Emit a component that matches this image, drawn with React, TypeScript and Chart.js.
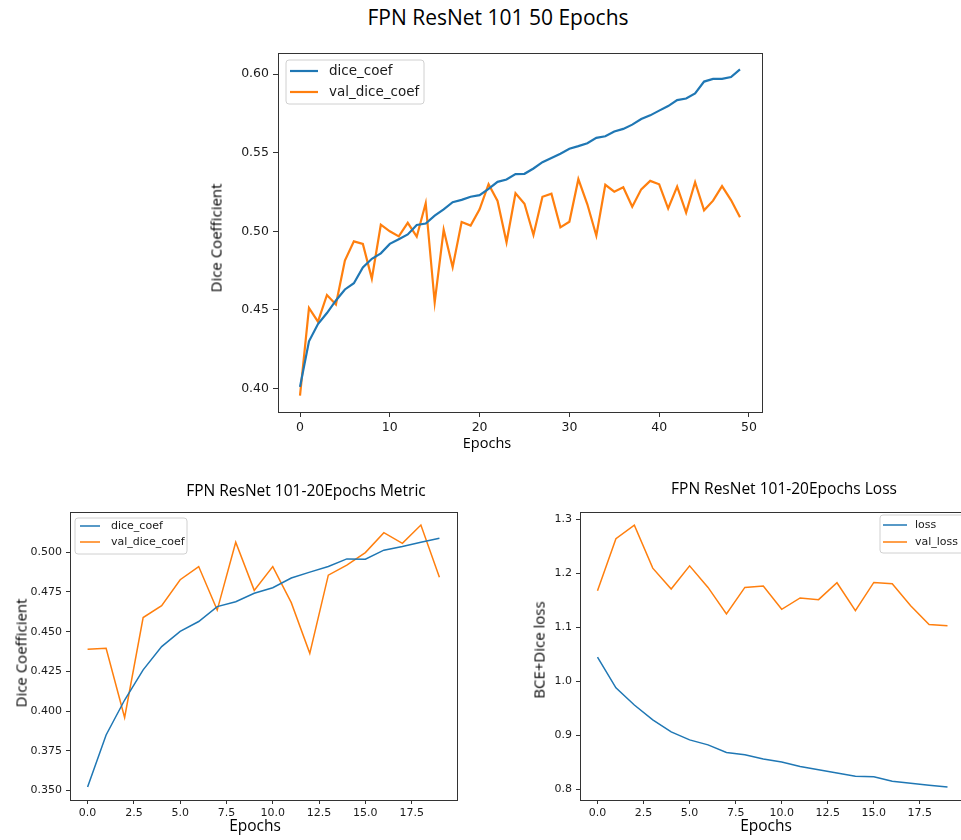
import React, { useEffect, useRef } from "react";
import { Chart, registerables } from "chart.js";

Chart.register(...registerables);

const BLUE = "#1f77b4";
const ORANGE = "#ff7f0e";

// ---- 50-epoch run ----
const DICE_50 = [
  0.401, 0.43, 0.441, 0.448, 0.456, 0.463, 0.467, 0.477, 0.4825, 0.486,
  0.492, 0.495, 0.498, 0.504, 0.505, 0.51, 0.514, 0.5185, 0.52, 0.522,
  0.523, 0.527, 0.5315, 0.533, 0.5364, 0.5366, 0.54, 0.544, 0.5467, 0.5494,
  0.5526, 0.5542, 0.5561, 0.5595, 0.5605, 0.5635, 0.5652, 0.5679, 0.5715, 0.5738,
  0.5768, 0.5797, 0.5835, 0.5845, 0.5877, 0.5953, 0.597, 0.597, 0.5982, 0.6031,
];
const VAL_DICE_50 = [
  0.3954, 0.4513, 0.4425, 0.4595, 0.4535, 0.4814, 0.4936, 0.492, 0.4699, 0.5042,
  0.5, 0.4968, 0.5054, 0.4966, 0.5179, 0.4547, 0.501, 0.4772, 0.5059, 0.5037,
  0.514, 0.53, 0.5193, 0.493, 0.5242, 0.5176, 0.4977, 0.522, 0.5239, 0.5025,
  0.5061, 0.5332, 0.5172, 0.4972, 0.5296, 0.5252, 0.528, 0.5157, 0.5267, 0.5321,
  0.5299, 0.5145, 0.5284, 0.5119, 0.5313, 0.5134, 0.5195, 0.5288, 0.5199, 0.509,
];
const X_TICKS_50 = [0, 10, 20, 30, 40, 50];
const Y_TICKS_50 = [0.4, 0.45, 0.5, 0.55, 0.6];

// ---- 20-epoch run ----
const DICE_20 = [
  0.3523, 0.385, 0.407, 0.426, 0.4406, 0.4502, 0.4564, 0.4658, 0.4689, 0.4742,
  0.4777, 0.4838, 0.4875, 0.491, 0.4958, 0.4956, 0.5013, 0.5036, 0.5063, 0.5088,
];
const VAL_DICE_20 = [
  0.4389, 0.4396, 0.396, 0.4589, 0.4664, 0.4827, 0.491, 0.4636, 0.5063, 0.476,
  0.491, 0.4683, 0.4364, 0.4856, 0.4919, 0.4998, 0.5123, 0.5056, 0.5171, 0.4842,
];
const LOSS_20 = [
  1.0449, 0.9879, 0.956, 0.9284, 0.9063, 0.8915, 0.8823, 0.8681, 0.8639, 0.856,
  0.8505, 0.8424, 0.8363, 0.8302, 0.824, 0.8234, 0.8147, 0.811, 0.8074, 0.8044,
];
const VAL_LOSS_20 = [
  1.1678, 1.2641, 1.2893, 1.2096, 1.1709, 1.2138, 1.1739, 1.1249, 1.1739, 1.1764,
  1.1333, 1.1543, 1.1512, 1.1825, 1.1309, 1.1831, 1.1807, 1.1401, 1.1051, 1.1027,
];
const X_TICKS_20 = [0, 2.5, 5, 7.5, 10, 12.5, 15, 17.5];
const Y_TICKS_METRIC = [0.35, 0.375, 0.4, 0.425, 0.45, 0.475, 0.5];
const Y_TICKS_LOSS = [0.8, 0.9, 1.0, 1.1, 1.2, 1.3];

type Series = { label: string; values: number[]; color: string };
type LegendSpec = {
  x: number; y: number; w: number; h: number;
  hx: number; handle: number; tx: number;
  rows: number[]; font: number;
};
type Area = { left: number; top: number; right: number; bottom: number };
type PanelProps = {
  left: number; top: number; width: number; height: number;
  area: Area;
  series: Series[];
  xTicks: number[]; xDecimals: number;
  yTicks: number[]; yDecimals: number;
  tickFont: number; tickLength: number; lineWidth: number;
  legend: LegendSpec;
};

// axis range padded by 5% of the data span on each side
function padRange(values: number[]): [number, number] {
  const lo = Math.min(...values);
  const hi = Math.max(...values);
  const m = (hi - lo) * 0.05;
  return [lo - m, hi + m];
}

const AXIS_COLOR = "#333333";
const TEXT_COLOR = "#1a1a1a";

const framePlugin = {
  id: "frame",
  afterDatasetsDraw(chart: any) {
    const { ctx, chartArea: a } = chart;
    ctx.save();
    ctx.strokeStyle = AXIS_COLOR;
    ctx.lineWidth = 1;
    ctx.strokeRect(
      Math.round(a.left) + 0.5,
      Math.round(a.top) + 0.5,
      Math.round(a.right) - Math.round(a.left),
      Math.round(a.bottom) - Math.round(a.top)
    );
    ctx.restore();
  },
};

function makeLegendPlugin(spec: LegendSpec) {
  return {
    id: "boxLegend",
    afterDraw(chart: any) {
      const ctx = chart.ctx as CanvasRenderingContext2D;
      ctx.save();
      const r = 3;
      const { x, y, w, h } = spec;
      ctx.beginPath();
      ctx.moveTo(x + r, y);
      ctx.lineTo(x + w - r, y);
      ctx.arcTo(x + w, y, x + w, y + r, r);
      ctx.lineTo(x + w, y + h - r);
      ctx.arcTo(x + w, y + h, x + w - r, y + h, r);
      ctx.lineTo(x + r, y + h);
      ctx.arcTo(x, y + h, x, y + h - r, r);
      ctx.lineTo(x, y + r);
      ctx.arcTo(x, y, x + r, y, r);
      ctx.closePath();
      ctx.fillStyle = "rgba(255,255,255,0.8)";
      ctx.fill();
      ctx.strokeStyle = "#d0d0d0";
      ctx.lineWidth = 1;
      ctx.stroke();
      chart.data.datasets.forEach((ds: any, i: number) => {
        const ry = spec.rows[i];
        ctx.beginPath();
        ctx.strokeStyle = ds.borderColor;
        ctx.lineWidth = ds.borderWidth;
        ctx.moveTo(spec.hx, ry);
        ctx.lineTo(spec.hx + spec.handle, ry);
        ctx.stroke();
        ctx.fillStyle = TEXT_COLOR;
        ctx.font = `${spec.font}px "DejaVu Sans"`;
        ctx.textBaseline = "middle";
        ctx.textAlign = "left";
        ctx.fillText(ds.label, spec.tx, ry);
      });
      ctx.restore();
    },
  };
}

function LinePanel(p: PanelProps) {
  const ref = useRef<HTMLCanvasElement | null>(null);
  useEffect(() => {
    if (!ref.current) return;
    const n = p.series[0].values.length;
    const [ymin, ymax] = padRange(p.series.flatMap((s) => s.values));
    const tickFont = { family: "DejaVu Sans", size: p.tickFont };
    const grid = {
      display: true,
      drawOnChartArea: false,
      drawTicks: true,
      tickLength: p.tickLength,
      color: AXIS_COLOR,
      tickColor: AXIS_COLOR,
      lineWidth: 1,
    };
    const chart = new Chart(ref.current, {
      type: "line",
      data: {
        datasets: p.series.map((s) => ({
          label: s.label,
          data: s.values.map((v, i) => ({ x: i, y: v })),
          borderColor: s.color,
          backgroundColor: s.color,
          borderWidth: p.lineWidth,
          pointRadius: 0,
          tension: 0,
          fill: false,
        })),
      },
      options: {
        animation: false,
        responsive: false,
        maintainAspectRatio: false,
        layout: {
          padding: { left: 0, top: p.area.top, right: p.width - p.area.right, bottom: 0 },
        },
        plugins: {
          legend: { display: false },
          tooltip: { enabled: false },
        },
        scales: {
          x: {
            type: "linear",
            min: -0.05 * (n - 1),
            max: (n - 1) * 1.05,
            afterBuildTicks: (s: any) => {
              s.ticks = p.xTicks.map((v) => ({ value: v }));
            },
            afterFit: (s: any) => {
              s.height = p.height - p.area.bottom;
            },
            ticks: {
              callback: (v: any) => Number(v).toFixed(p.xDecimals),
              font: tickFont,
              color: TEXT_COLOR,
              padding: 3,
              maxRotation: 0,
              autoSkip: false,
            },
            grid,
            border: { display: false },
          },
          y: {
            type: "linear",
            min: ymin,
            max: ymax,
            afterBuildTicks: (s: any) => {
              s.ticks = p.yTicks.map((v) => ({ value: v }));
            },
            afterFit: (s: any) => {
              s.width = p.area.left;
            },
            ticks: {
              callback: (v: any) => Number(v).toFixed(p.yDecimals),
              font: tickFont,
              color: TEXT_COLOR,
              padding: 4,
              autoSkip: false,
            },
            grid,
            border: { display: false },
          },
        },
      } as any,
      plugins: [framePlugin, makeLegendPlugin(p.legend)],
    });
    return () => chart.destroy();
  }, []);
  return (
    <canvas
      ref={ref}
      width={p.width}
      height={p.height}
      style={{ position: "absolute", left: p.left, top: p.top, width: p.width, height: p.height }}
    />
  );
}

function Label(props: { text: string; x: number; y: number; size: number; vertical?: boolean }) {
  return (
    <div
      style={{
        position: "absolute",
        left: props.x,
        top: props.y,
        transform: `translate(-50%, -50%)${props.vertical ? " rotate(-90deg)" : ""}`,
        fontFamily: '"Open Sans", sans-serif',
        fontSize: props.size,
        lineHeight: 1,
        whiteSpace: "nowrap",
        color: "#000",
      }}
    >
      {props.text}
    </div>
  );
}

export default function App() {
  return (
    <div
      style={{
        position: "absolute",
        left: 0,
        top: 0,
        width: 961,
        height: 840,
        overflow: "hidden",
        background: "#fff",
      }}
    >
      <LinePanel
        left={200}
        top={40}
        width={580}
        height={440}
        area={{ left: 78, top: 13, right: 562, bottom: 372 }}
        series={[
          { label: "dice_coef", values: DICE_50, color: BLUE },
          { label: "val_dice_coef", values: VAL_DICE_50, color: ORANGE },
        ]}
        xTicks={X_TICKS_50}
        xDecimals={0}
        yTicks={Y_TICKS_50}
        yDecimals={2}
        tickFont={12.5}
        tickLength={5}
        lineWidth={2.2}
        legend={{ x: 86, y: 20, w: 138, h: 44, hx: 90, handle: 28, tx: 129, rows: [31, 52], font: 13.5 }}
      />
      <LinePanel
        left={0}
        top={500}
        width={480}
        height={340}
        area={{ left: 70, top: 12, right: 457, bottom: 300 }}
        series={[
          { label: "dice_coef", values: DICE_20, color: BLUE },
          { label: "val_dice_coef", values: VAL_DICE_20, color: ORANGE },
        ]}
        xTicks={X_TICKS_20}
        xDecimals={1}
        yTicks={Y_TICKS_METRIC}
        yDecimals={3}
        tickFont={11}
        tickLength={4}
        lineWidth={1.5}
        legend={{ x: 75, y: 18, w: 112, h: 36, hx: 80, handle: 20, tx: 111, rows: [26, 42], font: 11 }}
      />
      <LinePanel
        left={520}
        top={500}
        width={460}
        height={340}
        area={{ left: 60, top: 12, right: 445, bottom: 300 }}
        series={[
          { label: "loss", values: LOSS_20, color: BLUE },
          { label: "val_loss", values: VAL_LOSS_20, color: ORANGE },
        ]}
        xTicks={X_TICKS_20}
        xDecimals={1}
        yTicks={Y_TICKS_LOSS}
        yDecimals={1}
        tickFont={11}
        tickLength={4}
        lineWidth={1.5}
        legend={{ x: 360, y: 15, w: 84, h: 38, hx: 363, handle: 24, tx: 395, rows: [25, 42], font: 11 }}
      />

      <Label text="FPN ResNet 101 50 Epochs" x={498} y={17} size={21} />
      <Label text="Epochs" x={487} y={443} size={14.5} />
      <Label text="Dice Coefficient" x={216} y={238} size={15} vertical />

      <Label text="FPN ResNet 101-20Epochs Metric" x={306} y={491} size={15.5} />
      <Label text="Dice Coefficient" x={21} y={653} size={15} vertical />
      <Label text="Epochs" x={255} y={826} size={15.5} />

      <Label text="FPN ResNet 101-20Epochs Loss" x={784} y={489} size={15.5} />
      <Label text="BCE+Dice loss" x={539} y={650} size={15} vertical />
      <Label text="Epochs" x={766} y={826} size={15.5} />
    </div>
  );
}
